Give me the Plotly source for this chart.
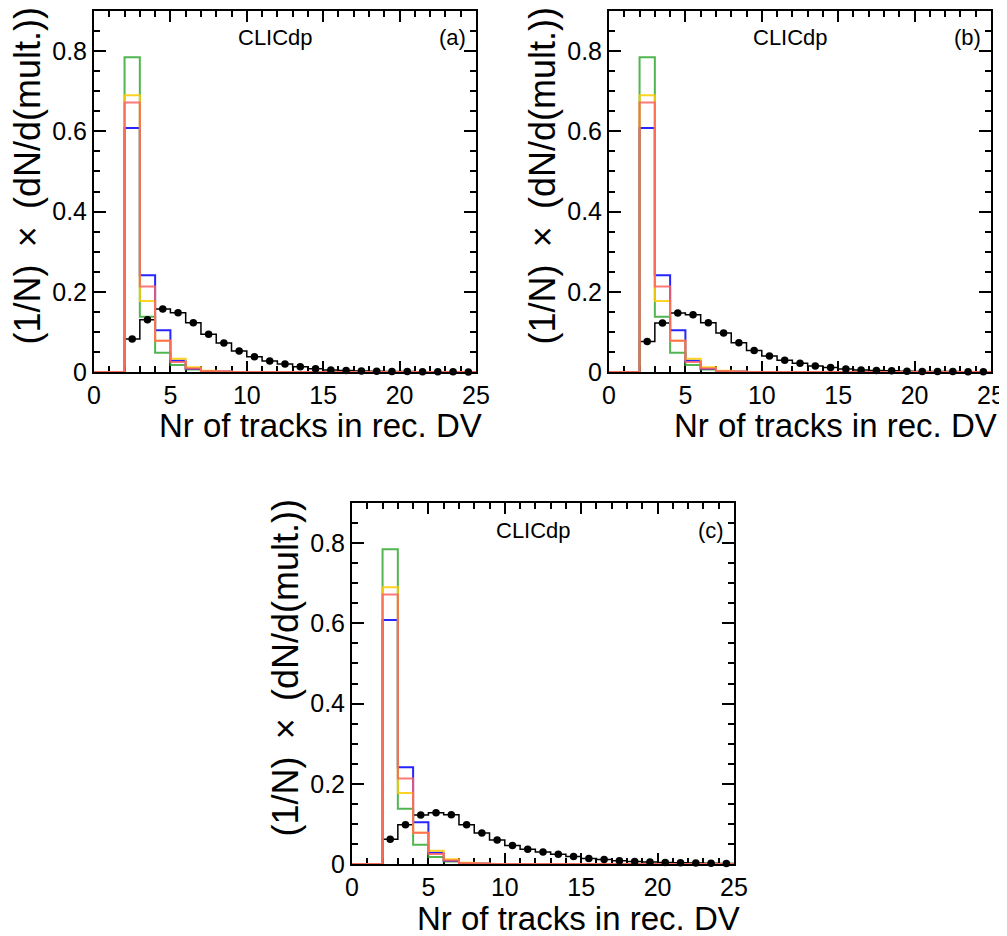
"""
Track multiplicity of reconstructed displaced vertices, three CLICdp panels.
"""

import plotly.graph_objects as go

# bin edges of the multiplicity histogram (unit bins from 0 to 25)
bin_edges = list(range(0, 26))

# coloured reference samples, identical in all three panels
green_vals = [0, 0, 0.785, 0.138, 0.048, 0.0175, 0.006, 0.002] + [0] * 17
blue_vals = [0, 0, 0.608, 0.241, 0.104, 0.028, 0.008, 0.002, 0.001] + [0] * 16
yellow_vals = [0, 0, 0.690, 0.177, 0.078, 0.033, 0.012, 0.003, 0.001] + [0] * 16
red_vals = [0, 0, 0.672, 0.213, 0.078, 0.025, 0.009, 0.002, 0.001] + [0] * 16

# black signal sample per panel
black_a = [0, 0, 0.082, 0.130, 0.157, 0.148, 0.123, 0.094, 0.072, 0.0525, 0.038,
           0.0275, 0.020, 0.013, 0.008, 0.005, 0.0035, 0.0025, 0.002, 0.0012,
           0.001, 0.0008, 0.0005, 0.0004, 0.0003]
black_b = [0, 0, 0.076, 0.122, 0.147, 0.143, 0.123, 0.097, 0.073, 0.0535, 0.040,
           0.029, 0.022, 0.015, 0.011, 0.0075, 0.005, 0.0035, 0.003, 0.002,
           0.0015, 0.001, 0.001, 0.0007, 0.0005]
black_c = [0, 0, 0.062, 0.098, 0.122, 0.128, 0.123, 0.098, 0.077, 0.060, 0.046,
           0.037, 0.030, 0.024, 0.019, 0.014, 0.011, 0.008, 0.0065, 0.005,
           0.0035, 0.003, 0.0025, 0.002, 0.0015]

panel_labels = ["(a)", "(b)", "(c)"]
y_ticks = [0, 0.2, 0.4, 0.6, 0.8]
x_ticks = [0, 5, 10, 15, 20, 25]

FONT = "Liberation Sans, Arial, Helvetica, sans-serif"
GAP = "\u00a0\u2009"
Y_TITLE = "(1/N)" + GAP + "×" + GAP + "(dN/d(mult.))"
colored = [
    (green_vals, "#33aa33"),
    (blue_vals, "#0000ff"),
    (yellow_vals, "#ffcc00"),
    (red_vals, "#ff6262"),
]

# the page body adds an 8px margin, so the figure is drawn 8px in from the corner
OFF = 8
W, H = 1007 - OFF, 936 - OFF
# pixel frames (left, right, top, bottom) as seen in the 1007 x 936 window
frames = [
    (94, 476, 11, 372),
    (609, 991, 11, 372),
    (352, 734, 503, 864),
]


def step(vals):
    return bin_edges, list(vals) + [vals[-1]]


fig = go.Figure()

for i, (black, label) in enumerate(zip([black_a, black_b, black_c], panel_labels)):
    n = "" if i == 0 else str(i + 1)
    xa, ya = "x" + n, "y" + n

    sx, sy = step(black)
    fig.add_trace(go.Scatter(x=sx, y=sy, mode="lines", line_shape="hv",
                             line=dict(color="black", width=1.5),
                             xaxis=xa, yaxis=ya, showlegend=False, cliponaxis=False))
    for vals, col in colored:
        sx, sy = step(vals)
        fig.add_trace(go.Scatter(x=sx, y=sy, mode="lines", line_shape="hv",
                                 line=dict(color=col, width=2), opacity=0.85,
                                 xaxis=xa, yaxis=ya, showlegend=False, cliponaxis=False))
    centers = [e + 0.5 for e, v in zip(bin_edges[:-1], black) if v > 0]
    pts = [v for v in black if v > 0]
    fig.add_trace(go.Scatter(x=centers, y=pts, mode="markers",
                             marker=dict(color="black", size=7.5),
                             xaxis=xa, yaxis=ya, showlegend=False, cliponaxis=False))

    x0, x1, y0, y1 = [p - OFF for p in frames[i]]
    axis_common = dict(
        showgrid=False, zeroline=False, showline=True, linecolor="black",
        linewidth=2, mirror="ticks", ticks="inside", tickcolor="black",
        tickwidth=1.5, tickfont=dict(family=FONT, size=25, color="black"),
        automargin=False, layer="below traces", ticklabeloverflow="allow",
    )
    fig.update_layout({
        "xaxis" + n: dict(
            domain=[x0 / W, x1 / W], anchor=ya, range=[0, 25],
            tickvals=x_ticks, ticklen=11,
            minor=dict(dtick=1, ticks="inside", ticklen=6, tickcolor="black", tickwidth=1.5),
            **axis_common,
        ),
        "yaxis" + n: dict(
            domain=[1 - y1 / H, 1 - y0 / H], anchor=xa, range=[0, 0.9],
            tickvals=y_ticks, ticklen=12,
            minor=dict(dtick=0.05, ticks="inside", ticklen=6, tickcolor="black", tickwidth=1.5),
            **axis_common,
        ),
    })

    dom = " domain"
    fig.add_annotation(text="CLICdp", xref=xa + dom, yref=ya + dom, x=0.474, y=1,
                       yshift=-27, xanchor="center", yanchor="middle", showarrow=False,
                       font=dict(family=FONT, size=22, color="black"))
    fig.add_annotation(text=label, xref=xa + dom, yref=ya + dom, x=1, y=1,
                       xshift=-8, yshift=-27, xanchor="right", yanchor="middle",
                       showarrow=False, font=dict(family=FONT, size=22, color="black"))
    fig.add_annotation(text="Nr of tracks in rec. DV", xref=xa + dom, yref=ya + dom,
                       x=1, y=0, xshift=8, yshift=-54, xanchor="right", yanchor="middle",
                       showarrow=False, font=dict(family=FONT, size=33, color="black"))
    fig.add_annotation(text=Y_TITLE, xref=xa + dom, yref=ya + dom,
                       x=0, y=1, xshift=-67, yshift=4, xanchor="center", yanchor="top",
                       textangle=-90, showarrow=False, borderpad=0,
                       font=dict(family=FONT, size=36, color="black"))

fig.update_layout(
    width=W, height=H,
    margin=dict(l=0, r=0, t=0, b=0),
    paper_bgcolor="white", plot_bgcolor="white",
    font=dict(family=FONT, color="black"),
)

fig.write_html("out.html")
